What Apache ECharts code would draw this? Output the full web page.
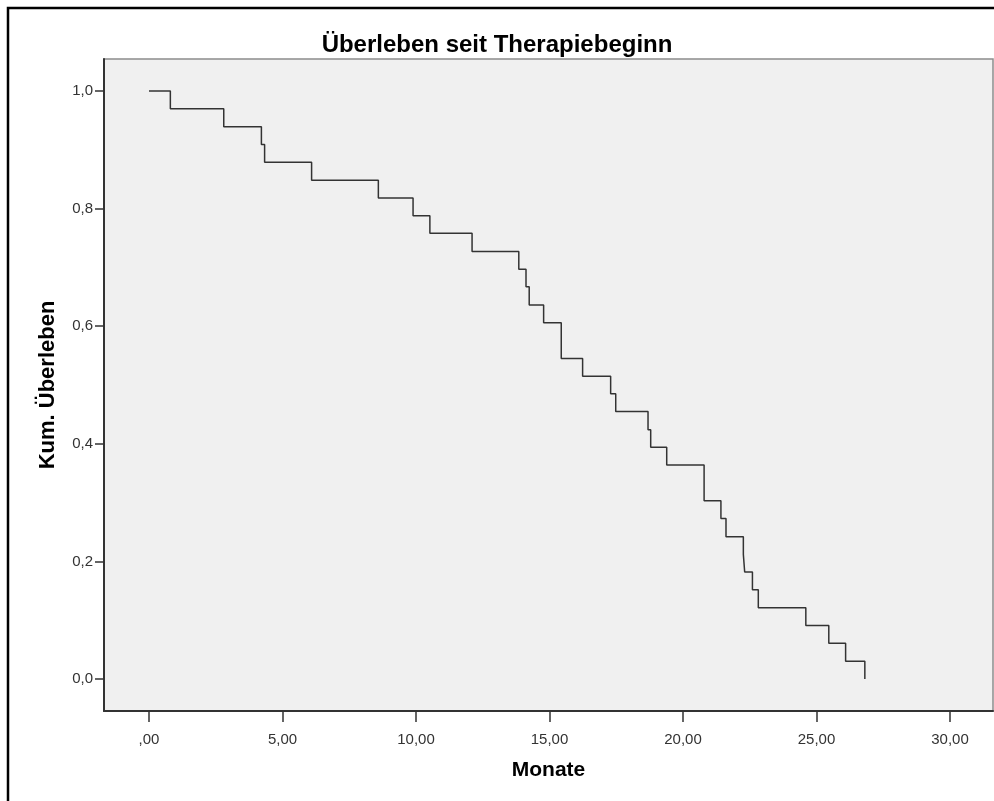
<!DOCTYPE html>
<html>
<head>
<meta charset="utf-8">
<title>Überleben seit Therapiebeginn</title>
<script src="https://cdn.jsdelivr.net/npm/echarts@6/dist/echarts.min.js"></script>
<style>
  html, body { margin: 0; padding: 0; background: #ffffff; overflow: hidden; }
  #chart { width: 994px; height: 801px; }
</style>
</head>
<body>
<div id="chart"></div>
<script>
// Kaplan-Meier estimate: event times (months) and cumulative survival after each event
const months = [0, 0.80, 2.80, 4.21, 4.33, 6.09, 8.59, 9.89, 10.52, 12.10, 13.85, 14.12, 14.24, 14.78, 15.44, 16.24,
                17.29, 17.48, 18.69, 18.79, 19.39, 20.79, 21.42, 21.61, 22.26, 22.31, 22.60, 22.82, 24.60, 25.46, 26.09, 26.81];
const survival = [1.000, 0.970, 0.939, 0.909, 0.879, 0.848, 0.818, 0.788, 0.758, 0.727, 0.697, 0.667, 0.636, 0.606, 0.545, 0.515,
                  0.485, 0.455, 0.424, 0.394, 0.364, 0.303, 0.273, 0.242, 0.212, 0.182, 0.152, 0.121, 0.091, 0.061, 0.030, 0.000];

// axis ticks and their labels (German decimal comma)
const xTicks = [0, 5, 10, 15, 20, 25, 30];
const xTickLabels = [',00', '5,00', '10,00', '15,00', '20,00', '25,00', '30,00'];
const yTicks = [0, 0.2, 0.4, 0.6, 0.8, 1.0];
const yTickLabels = ['0,0', '0,2', '0,4', '0,6', '0,8', '1,0'];

const titleText = 'Überleben seit Therapiebeginn';
const xName = 'Monate';
const yName = 'Kum. Überleben';

const FONT = "'Liberation Sans', Arial, sans-serif";

function labelFor(ticks, labels) {
  return function (v) {
    for (let i = 0; i < ticks.length; i++) {
      if (Math.abs(ticks[i] - v) < 1e-6) return labels[i];
    }
    return '';
  };
}

const chart = echarts.init(document.getElementById('chart'), null, { renderer: 'canvas' });

chart.setOption({
  animation: false,
  backgroundColor: '#ffffff',
  title: {
    text: titleText,
    left: 'center',
    top: 28,
    textStyle: { fontFamily: FONT, fontSize: 24, fontWeight: 'bold', color: '#000000' }
  },
  graphic: [
    {
      // outer frame around the whole output
      type: 'rect',
      silent: true,
      z: -10,
      shape: { x: 8, y: 8, width: 1100, height: 900 },
      style: { fill: 'none', stroke: '#000000', lineWidth: 2.5 }
    }
  ],
  grid: {
    left: 104,
    right: 1,
    top: 59,
    bottom: 90,
    show: true,
    backgroundColor: '#f0f0f0',
    borderColor: '#8c8c8c',
    borderWidth: 1.5
  },
  xAxis: {
    type: 'value',
    min: -1.685,
    max: 31.61,
    name: xName,
    nameLocation: 'middle',
    nameGap: 49,
    nameTextStyle: { fontFamily: FONT, fontSize: 21, fontWeight: 'bold', color: '#000000' },
    splitLine: { show: false },
    axisLine: { show: true, onZero: false, lineStyle: { color: '#333333', width: 2 } },
    axisTick: { show: true, length: 11, customValues: xTicks, lineStyle: { color: '#333333', width: 1.5 } },
    axisLabel: {
      customValues: xTicks,
      margin: 21,
      fontFamily: FONT, fontSize: 15, color: '#333333',
      formatter: labelFor(xTicks, xTickLabels)
    }
  },
  yAxis: {
    type: 'value',
    min: -0.0544,
    max: 1.0544,
    name: yName,
    nameLocation: 'middle',
    nameGap: 45,
    nameTextStyle: { fontFamily: FONT, fontSize: 22, fontWeight: 'bold', color: '#000000' },
    splitLine: { show: false },
    axisLine: { show: true, onZero: false, lineStyle: { color: '#333333', width: 2 } },
    axisTick: { show: true, length: 9, customValues: yTicks, lineStyle: { color: '#333333', width: 1.5 } },
    axisLabel: {
      customValues: yTicks,
      margin: 11,
      fontFamily: FONT, fontSize: 15, color: '#333333',
      formatter: labelFor(yTicks, yTickLabels)
    }
  },
  series: [
    {
      type: 'line',
      step: 'end',
      showSymbol: false,
      data: months.map((m, i) => [m, survival[i]]),
      lineStyle: { color: '#333333', width: 1.5 }
    }
  ]
});
</script>
</body>
</html>
